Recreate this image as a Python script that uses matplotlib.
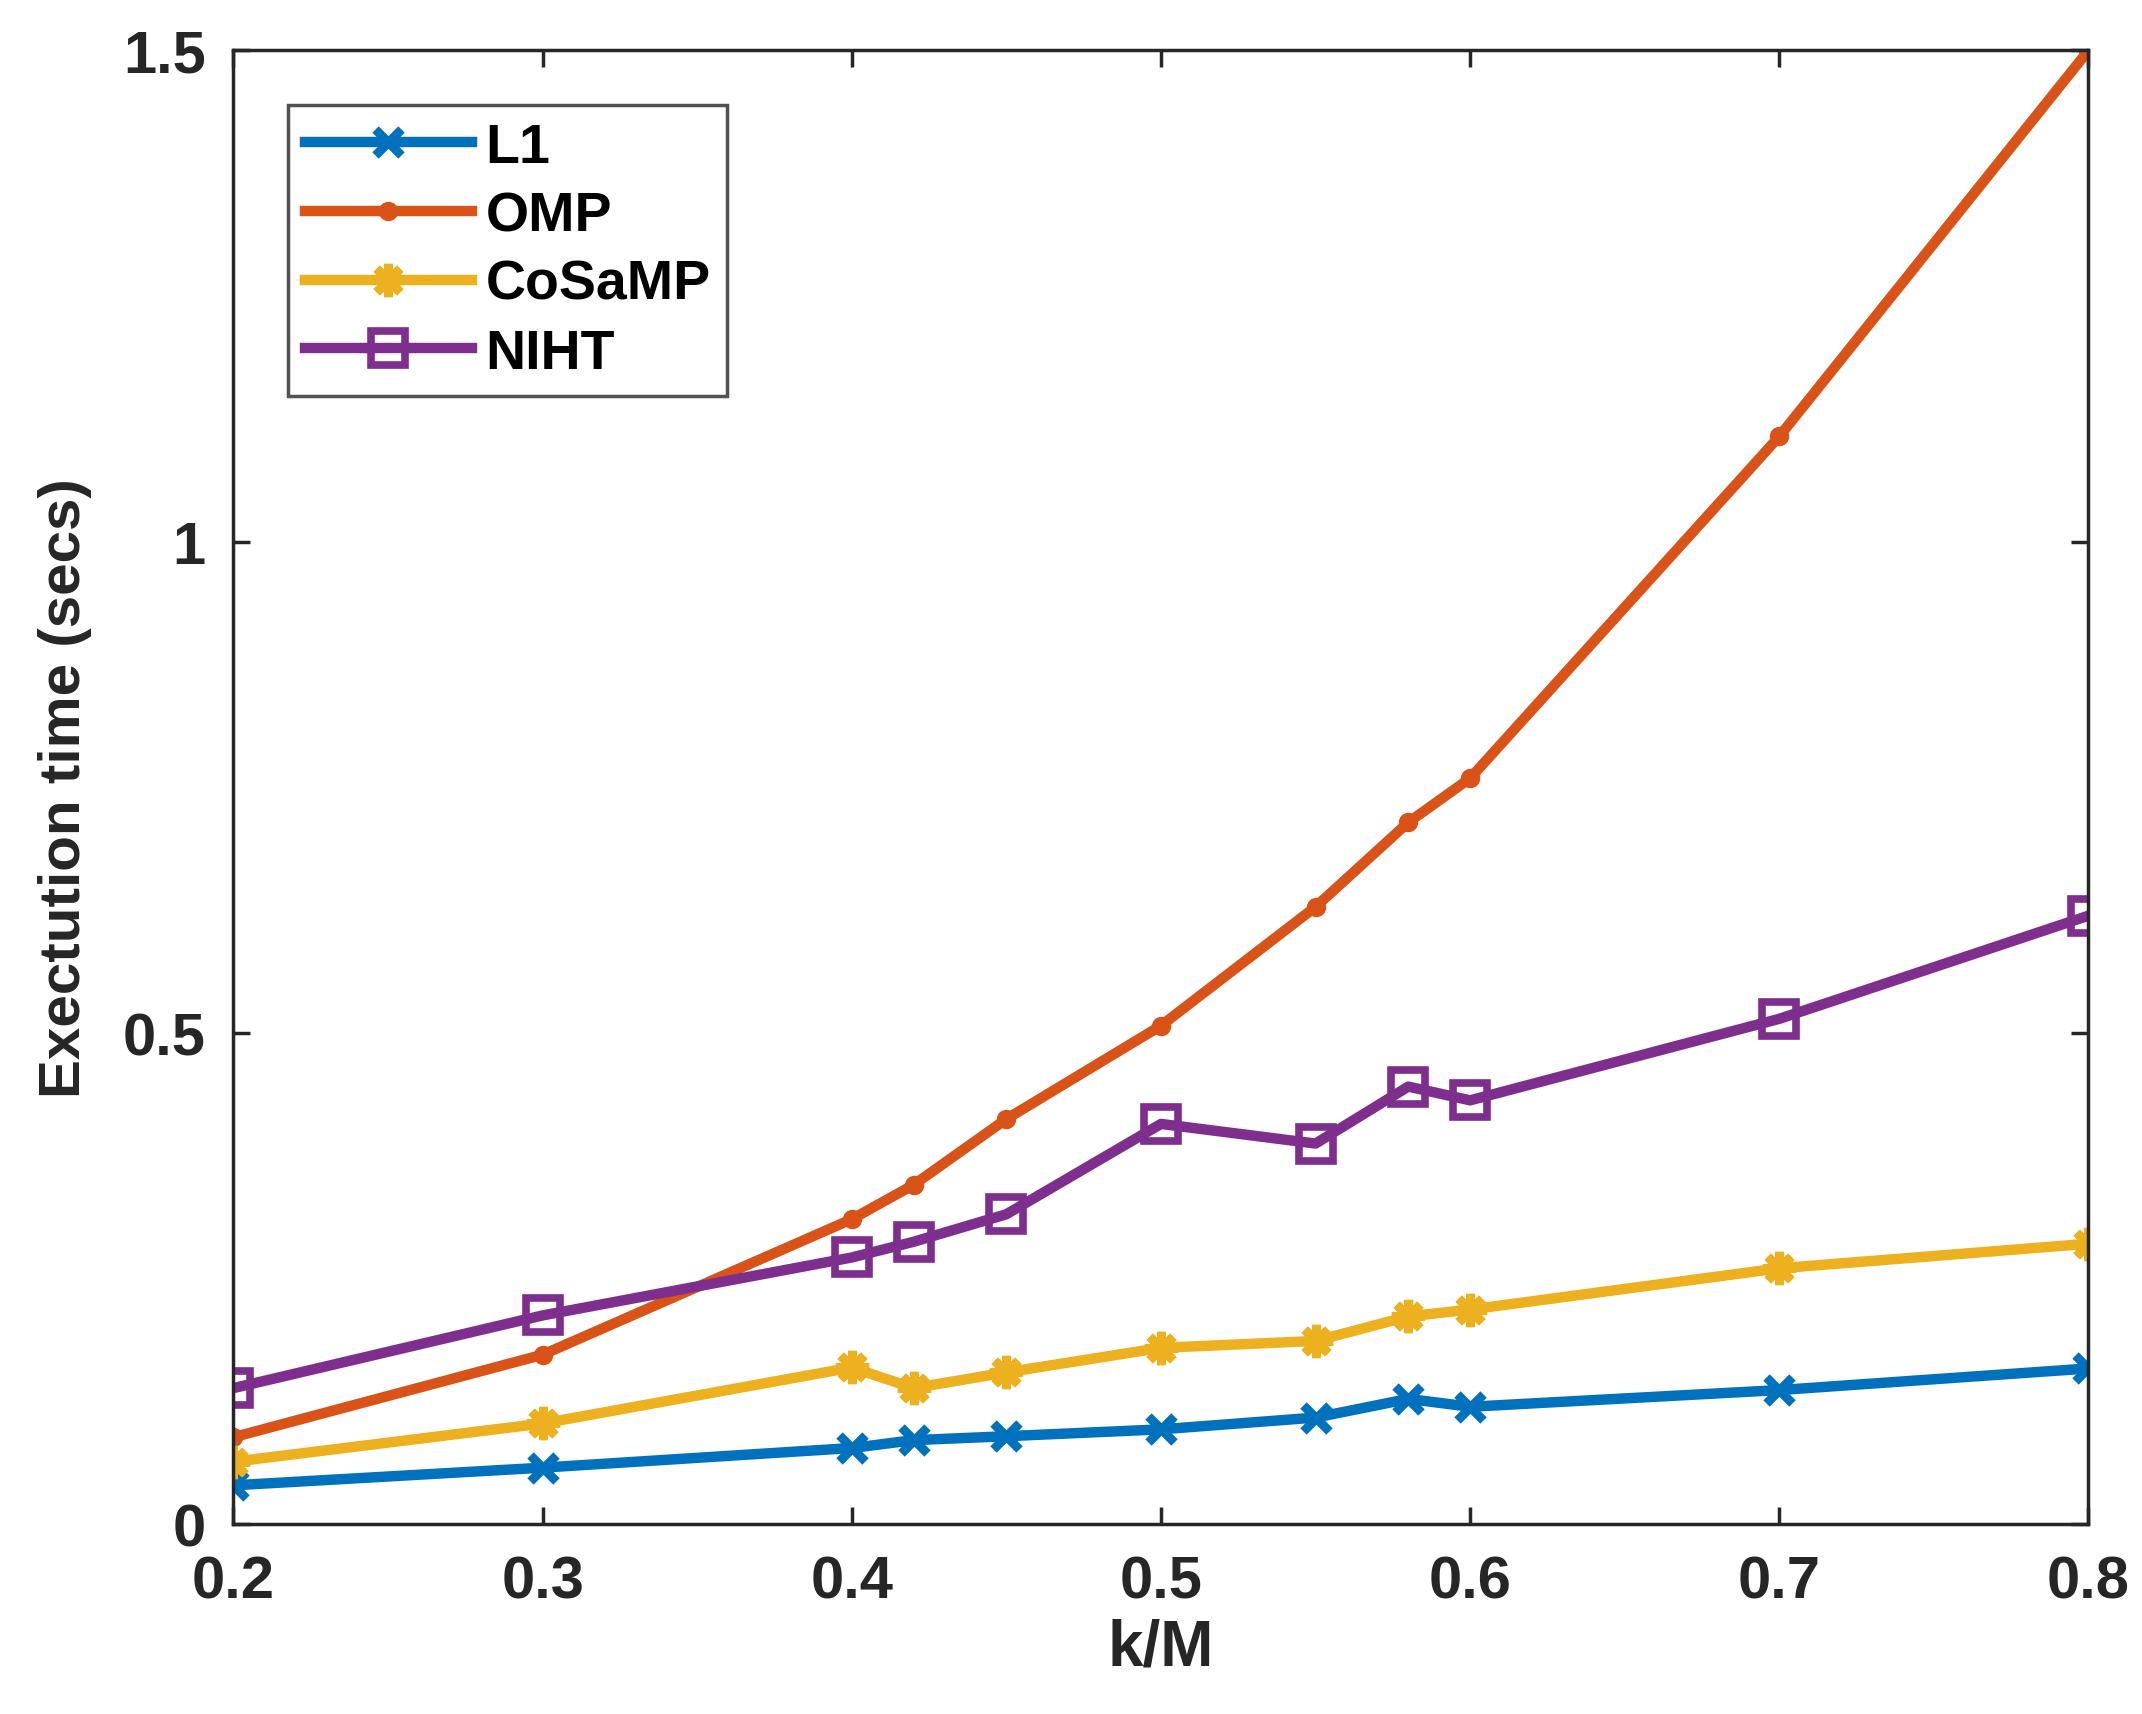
import numpy as np
import matplotlib.pyplot as plt

# k/M values
km = [0.2, 0.3, 0.4, 0.42, 0.45, 0.5, 0.55, 0.58, 0.6, 0.7, 0.8]

# execution times (secs)
t_l1 = [0.039, 0.057, 0.077, 0.085, 0.089, 0.096, 0.108, 0.127, 0.119, 0.136, 0.158]
t_omp = [0.088, 0.172, 0.310, 0.345, 0.412, 0.507, 0.628, 0.714, 0.759, 1.107, 1.500]
t_cosamp = [0.063, 0.102, 0.159, 0.138, 0.154, 0.179, 0.186, 0.211, 0.218, 0.260, 0.285]
t_niht = [0.138, 0.212, 0.271, 0.287, 0.315, 0.407, 0.387, 0.445, 0.431, 0.514, 0.619]

names = ["L1", "OMP", "CoSaMP", "NIHT"]

plt.rcParams['font.family'] = ['Liberation Sans', 'DejaVu Sans']
plt.rcParams['font.weight'] = 'bold'

fig = plt.figure(figsize=(21.42, 17.15), dpi=100)
ax = fig.add_axes([0.109, 0.111, 0.866, 0.859])

lw = 7.5
ax.plot(km, t_l1, color="#0072BD", lw=lw, marker="x", ms=19, mew=6.5, label=names[0])
ax.plot(km, t_omp, color="#D95319", lw=lw, marker="o", ms=13, label=names[1])
ax.plot(km, t_cosamp, color="#EDB120", lw=lw, marker=(8, 2, 0), ms=24, mew=6.5, label=names[2])
ax.plot(km, t_niht, color="#7E2F8E", lw=lw, marker="s", ms=25, mfc="none", mew=5.5, label=names[3])

ax.set_xlim(0.2, 0.8)
ax.set_ylim(0, 1.5)
ax.set_xticks([0.2, 0.3, 0.4, 0.5, 0.6, 0.7, 0.8])
ax.set_xticklabels(["0.2", "0.3", "0.4", "0.5", "0.6", "0.7", "0.8"])
ax.set_yticks([0, 0.5, 1, 1.5])
ax.set_yticklabels(["0", "0.5", "1", "1.5"])

for s in ax.spines.values():
    s.set_linewidth(2.5)
    s.set_color("#262626")
ax.tick_params(direction="in", length=12, width=2.5, top=True, right=True,
               labelsize=43, colors="#262626", pad=20)
ax.tick_params(axis="x", pad=22)

ax.set_xlabel("k/M", fontsize=46, fontweight="bold", color="#262626", labelpad=6)
ax.set_ylabel("Exectution time (secs)", fontsize=42, fontweight="bold", color="#262626", labelpad=22)

leg = ax.legend(loc="upper left", bbox_to_anchor=(0.0295, 0.963), borderaxespad=0,
                fontsize=40, frameon=True, fancybox=False, handlelength=3.0,
                handletextpad=0.25, labelspacing=0.3, borderpad=0.3)
leg.get_frame().set_edgecolor("#262626")
leg.get_frame().set_linewidth(2.5)

fig.savefig("out.png", dpi=100)
